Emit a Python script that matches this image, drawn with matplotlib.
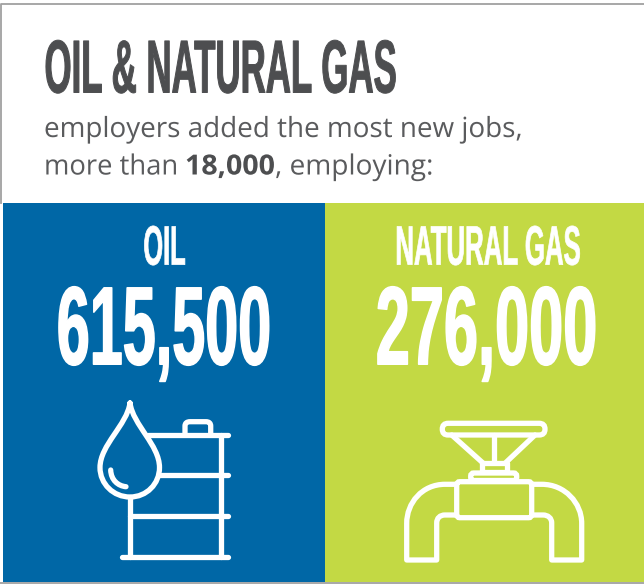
import matplotlib
matplotlib.use('Agg')
import matplotlib.pyplot as plt
import matplotlib.patheffects as pe
from matplotlib.patches import Rectangle, PathPatch, FancyBboxPatch
from matplotlib.path import Path
from matplotlib.text import Text
from matplotlib.transforms import Affine2D, Bbox
from matplotlib import font_manager

# text and values
title = 'OIL & NATURAL GAS'
subtitle_1 = 'employers added the most new jobs,'
subtitle_2 = ['more than ', '18,000', ', employing:']
categories = ['OIL', 'NATURAL GAS']
values = ['615,500', '276,000']

BLUE = '#0067A6'
GREEN = '#C3D944'
GREY = '#4D4E50'
GREY_LIGHT = '#5A5B5D'

names = {f.name for f in font_manager.fontManager.ttflist}
HEAVY = 'Liberation Sans Narrow' if 'Liberation Sans Narrow' in names else 'Liberation Sans'


class Squeeze(pe.AbstractPathEffect):
    # horizontal squeeze plus a stroke, the chart uses a heavy condensed display face
    def __init__(self, sx, lw=0):
        super().__init__()
        self.sx = sx
        self.lw = lw

    def draw_path(self, renderer, gc, tpath, affine, rgbFace):
        m = affine.get_matrix().copy()
        m[0, 0] *= self.sx
        m[0, 1] *= self.sx
        gc0 = renderer.new_gc()
        gc0.copy_properties(gc)
        if self.lw:
            gc0.set_linewidth(self.lw)
            gc0.set_foreground(rgbFace)
        else:
            gc0.set_linewidth(0)
        renderer.draw_path(gc0, tpath, Affine2D(m), rgbFace)
        gc0.restore()


fig = plt.figure(figsize=(6.44, 5.84), dpi=100, facecolor='white')
ax = fig.add_axes([0, 0, 1, 1])
ax.set_xlim(0, 644)
ax.set_ylim(584, 0)
ax.axis('off')


def fit_text(x, y, s, target_w, size, color, family=HEAVY, weight='bold', lw=0):
    pad = lw * 100 / 72
    t = ax.text(x + pad / 2, y - pad / 2, s, fontsize=size, color=color, family=family,
                weight=weight, ha='left', va='baseline')
    w = t.get_window_extent(fig.canvas.get_renderer()).width
    sx = (target_w - pad) / w
    t.set_path_effects([Squeeze(sx, lw)])

    # report the box that is really drawn, not the unsqueezed one
    def squeezed_extent(renderer=None, dpi=None):
        b = Text.get_window_extent(t, renderer, dpi)
        return Bbox.from_extents(b.x0, b.y0, b.x0 + b.width * sx, b.y1)
    t.get_window_extent = squeezed_extent
    return t


# frame and panels
ax.plot([1.5, 1.5, 644], [203, 3.5, 3.5], color='#A0A0A0', lw=1.3)
ax.add_patch(Rectangle((3, 203), 322, 379, fc=BLUE, ec='none'))
ax.add_patch(Rectangle((325, 203), 319, 379, fc=GREEN, ec='none'))
ax.plot([0, 644], [583, 583], color='#A0A0A0', lw=1.3)

# heading
fit_text(44, 93, title, 353, 54, GREY, lw=0.7)
fit_text(44, 137, subtitle_1, 477, 20, GREY_LIGHT, family='Open Sans', weight='normal')
x = 44
widths = [141, 90, 158]
weights = ['normal', 'bold', 'normal']
for piece, w, wt in zip(subtitle_2, widths, weights):
    fit_text(x, 174.5, piece, w, 20, GREY if wt == 'bold' else GREY_LIGHT,
             family='Open Sans', weight=wt)
    x += w

# panel labels
fit_text(143, 265, categories[0], 43, 40, 'white', lw=0.5)
fit_text(395, 265, categories[1], 186, 40, 'white', lw=0.5)
fit_text(56, 365, values[0], 216, 80, 'white', lw=1.1)
fit_text(375, 365, values[1], 223, 80, 'white', lw=1.1)

# barrel and drop icon
LW = 3.8
style = dict(color='white', lw=LW, solid_capstyle='round', solid_joinstyle='round')
for seg_x, seg_y in [([148, 228], [434.7, 434.7]),
                     ([160, 228], [475, 475]),
                     ([130, 228], [516, 516]),
                     ([122, 228], [556.7, 556.7]),
                     ([130, 130], [497, 556.7]),
                     ([220.7, 220.7], [434.7, 556.7])]:
    ax.plot(seg_x, seg_y, **style)

C = Path.CURVE4
M, L = Path.MOVETO, Path.LINETO
CQ = Path.CURVE3


def stroke(verts, codes):
    ax.add_patch(PathPatch(Path(verts, codes), fc='none', ec='white', lw=LW,
                           capstyle='round', joinstyle='round'))


# barrel lid
stroke([(185, 434.7), (185, 426), (185, 421.7), (190, 421.7), (206, 421.7),
        (210.7, 421.7), (210.7, 426), (210.7, 434.7)],
       [M, L, CQ, CQ, L, CQ, CQ, L])
# drop
stroke([(130, 403), (127, 425), (100, 445), (100, 467.5),
        (100, 484), (113.5, 497), (130, 497),
        (146.5, 497), (159.5, 484), (159.5, 467.5),
        (159.5, 445), (133, 425), (130, 403)],
       [M, C, C, C, C, C, C, C, C, C, C, C, C])
stroke([(110.7, 470), (111, 480), (118, 486), (126, 486.7)], [M, C, C, C])

# valve icon
ax.add_patch(FancyBboxPatch((442.3, 423.3), 102.7, 11.7, boxstyle='round,pad=0,rounding_size=5.8',
                            fc='none', ec='white', lw=LW))
for seg_x, seg_y in [([451.7, 483.3], [435, 463.3]),
                     ([535, 505], [435, 463.3]),
                     ([494, 494], [435, 462])]:
    ax.plot(seg_x, seg_y, **style)
ax.add_patch(Rectangle((481.7, 463.3), 25, 8.4, fc='none', ec='white', lw=LW, joinstyle='round'))
ax.add_patch(FancyBboxPatch((470.7, 473), 46, 7.5, boxstyle='round,pad=0,rounding_size=3',
                            fc=GREEN, ec='white', lw=LW))
ax.add_patch(FancyBboxPatch((456.7, 481.7), 75, 36, boxstyle='round,pad=0,rounding_size=3',
                            fc=GREEN, ec='white', lw=LW))
stroke([(456.7, 484.3), (445, 484.3), (422, 484.3), (406.7, 503), (406.7, 523.3),
        (406.7, 560), (436.7, 560), (436.7, 523), (436.7, 518), (440, 515), (445, 515),
        (456.7, 515)],
       [M, L, C, C, C, L, L, L, C, C, C, L])
stroke([(531.7, 484.3), (541.7, 484.3), (565, 484.3), (581.7, 503), (581.7, 523.3),
        (581.7, 560), (551.7, 560), (551.7, 523), (551.7, 518), (548, 515), (543, 515),
        (531.7, 515)],
       [M, L, C, C, C, L, L, L, C, C, C, L])

fig.savefig('out.png', dpi=100)
